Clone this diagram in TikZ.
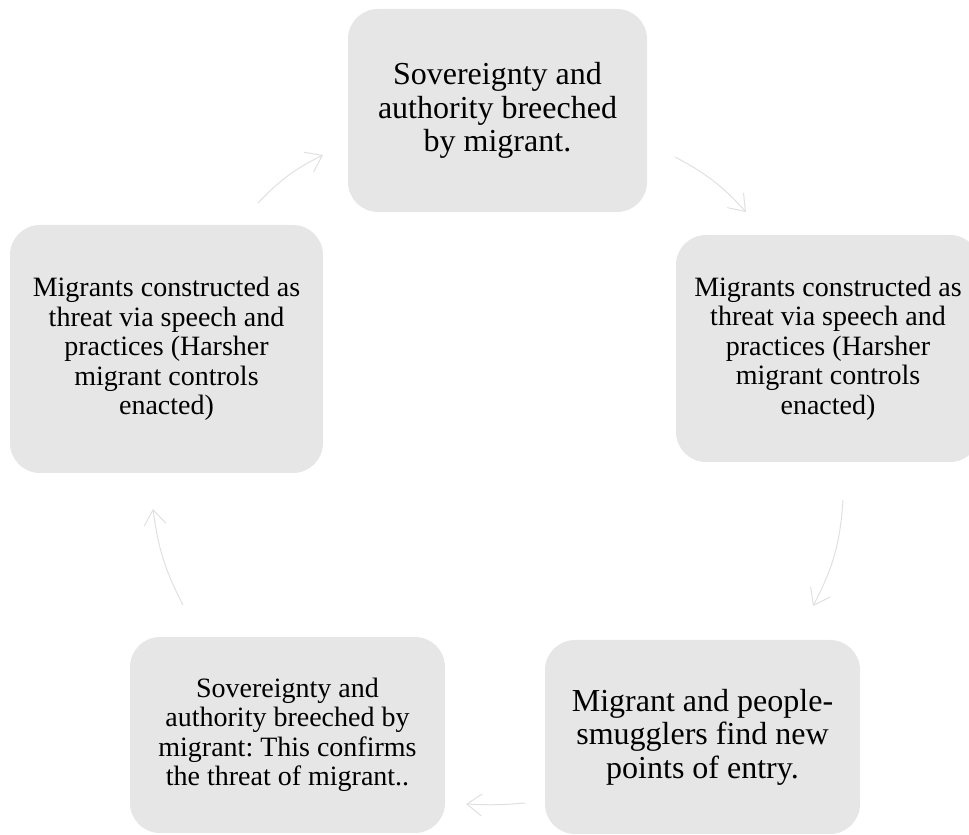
\documentclass[tikz,border=0pt]{standalone}
\usepackage{fontspec}
\setmainfont{Liberation Serif}
\usetikzlibrary{arrows.meta}
\definecolor{boxfill}{RGB}{230,230,230}
\definecolor{arrowgray}{RGB}{224,224,224}
\frenchspacing
\begin{document}
\begin{tikzpicture}[x=1pt,y=1pt,
  box/.style={fill=boxfill, draw=none, rounded corners=30pt, align=center, inner sep=0pt},
  big/.style={font=\fontsize{32}{33.5}\selectfont},
  small/.style={font=\fontsize{28}{29.5}\selectfont},
  conn/.style={draw=arrowgray, line width=1pt, -{Straight Barb[length=15pt,width=22pt]}}]
\clip (0,0) rectangle (969,835);
\node[box,big,minimum width=299pt,minimum height=203pt] (top) at (497.5,724.5)
  {Sovereignty and\\authority breeched\\by migrant.};
\node[box,small,minimum width=304pt,minimum height=227pt] (right) at (828,486.5)
  {Migrants constructed as\\threat via speech and\\practices (Harsher\\migrant controls\\enacted)};
\node[box,big,minimum width=315pt,minimum height=194pt] (botright) at (702.5,98)
  {Migrant and people-\\smugglers find new\\points of entry.};
\node[box,small,minimum width=315pt,minimum height=196pt] (botleft) at (287.5,100)
  {Sovereignty and\\authority breeched by\\migrant: This confirms\\the threat of migrant..};
\node[box,small,minimum width=313pt,minimum height=248pt] (left) at (166.5,486)
  {Migrants constructed as\\threat via speech and\\practices (Harsher\\migrant controls\\enacted)};
\coordinate (a1s) at (258,632); \coordinate (a1e) at (323,680);
\coordinate (a2s) at (675,678); \coordinate (a2e) at (746,623);
\coordinate (a3s) at (843,335); \coordinate (a3e) at (813,229);
\coordinate (a4s) at (525,32);  \coordinate (a4e) at (466,31);
\coordinate (a5s) at (183,230); \coordinate (a5e) at (153,326);
\draw[conn] (a1s) to[bend left=10] (a1e);
\draw[conn] (a2s) to[bend left=10] (a2e);
\draw[conn] (a3s) to[bend left=12] (a3e);
\draw[conn] (a4s) to[bend left=4] (a4e);
\draw[conn] (a5s) to[bend left=10] (a5e);
\end{tikzpicture}
\end{document}
